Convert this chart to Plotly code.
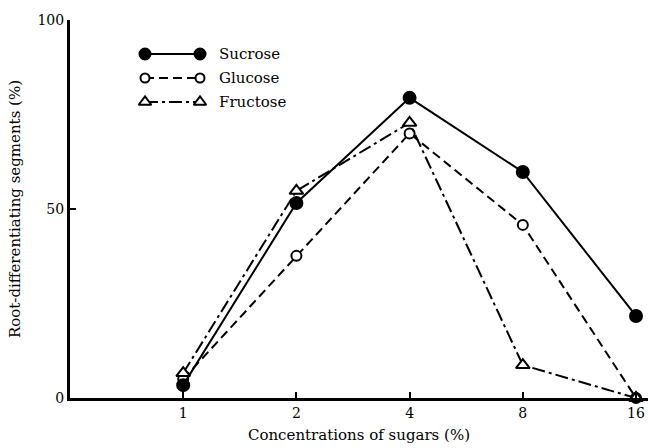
import plotly.graph_objects as go

concentrations = [1, 2, 4, 8, 16]
tick_labels = ["1", "2", "4", "8", "16"]
sucrose = [3.4, 51.6, 79.4, 59.8, 21.7]
glucose = [5.0, 37.6, 70.0, 45.8, 0.0]
fructose = [6.6, 54.8, 72.8, 8.7, 0.0]
series_names = ["Sucrose", "Glucose", "Fructose"]

FONT = "DejaVu Serif, Liberation Serif, serif"

styles = {
    "Sucrose": dict(dash="solid", symbol="circle", size=12, fill="black"),
    "Glucose": dict(dash="9px,5px", symbol="circle", size=10, fill="white"),
    "Fructose": dict(dash="13px,4px,3px,4px", symbol="triangle-up", size=12, fill="white"),
}
values = {"Sucrose": sucrose, "Glucose": glucose, "Fructose": fructose}

fig = go.Figure()
for name in ["Glucose", "Sucrose", "Fructose"]:
    s = styles[name]
    fig.add_trace(go.Scatter(
        x=concentrations, y=values[name], mode="lines+markers", name=name,
        line=dict(color="black", width=2, dash=s["dash"]),
        marker=dict(symbol=s["symbol"], size=s["size"], color=s["fill"],
                    line=dict(color="black", width=2)),
        cliponaxis=False, showlegend=False,
    ))

# custom legend (marker - line - marker) on a pixel-like overlay axis
legend_rows = [54, 78, 102]
for name, ly in zip(series_names, legend_rows):
    s = styles[name]
    fig.add_trace(go.Scatter(
        x=[145, 200], y=[ly, ly], xaxis="x2", yaxis="y2", mode="lines+markers",
        line=dict(color="black", width=2, dash=s["dash"]),
        marker=dict(symbol=s["symbol"], size=s["size"] - 1, color=s["fill"],
                    line=dict(color="black", width=2)),
        cliponaxis=False, showlegend=False, hoverinfo="skip",
    ))
    fig.add_annotation(x=217, y=ly, xref="x2", yref="y2", text=name,
                       showarrow=False, xanchor="left", yanchor="middle",
                       font=dict(family=FONT, size=15, color="black"))

fig.update_layout(
    width=648, height=448,
    margin=dict(l=70, r=0, t=20, b=50),
    paper_bgcolor="white", plot_bgcolor="white",
    font=dict(family=FONT, size=14, color="black"),
    xaxis=dict(
        type="log", range=[-0.301, 1.236],
        tickvals=concentrations, ticktext=tick_labels,
        ticks="inside", ticklen=6, tickwidth=2, tickcolor="black",
        showline=True, linecolor="black", linewidth=3,
        showgrid=False, zeroline=False, automargin=False,
        tickfont=dict(family=FONT, size=14),
        title=dict(text="Concentrations of sugars (%)", standoff=10,
                   font=dict(family=FONT, size=15)),
    ),
    yaxis=dict(
        range=[0, 100], tickvals=[0, 50, 100],
        ticks="inside", ticklen=6, tickwidth=2, tickcolor="black",
        showline=True, linecolor="black", linewidth=3,
        showgrid=False, zeroline=False, automargin=False,
        tickfont=dict(family=FONT, size=14),
        title=dict(text="Root-differentiating segments (%)", standoff=14,
                   font=dict(family=FONT, size=15)),
    ),
    xaxis2=dict(overlaying="x", range=[70, 648], visible=False, fixedrange=True),
    yaxis2=dict(overlaying="y", range=[398, 20], visible=False, fixedrange=True),
)

fig.write_html(
    "out.html",
    config={"displayModeBar": False},
    post_script="document.body.style.margin='0';document.body.style.overflow='hidden';",
)
